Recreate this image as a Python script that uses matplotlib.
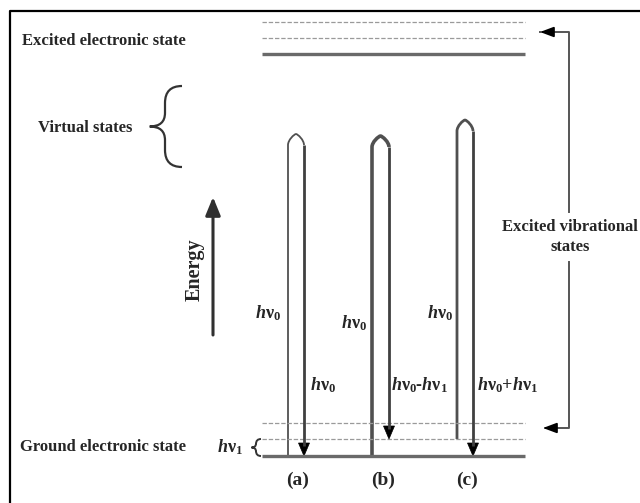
import matplotlib
matplotlib.use("Agg")
import matplotlib.pyplot as plt
from matplotlib.path import Path
from matplotlib.patches import PathPatch, Polygon

plt.rcParams['mathtext.fontset'] = 'custom'
plt.rcParams['mathtext.rm'] = 'Liberation Serif:bold'
plt.rcParams['mathtext.it'] = 'Liberation Serif:italic:bold'
plt.rcParams['mathtext.bf'] = 'Liberation Serif:bold'

# ---- diagram values (pixel-space layout of the energy diagram) ----
excited_levels = [22, 38, 54]          # dashed, dashed, solid
excited_styles = ['dashed', 'dashed', 'solid']
ground_levels = [423, 439, 456]        # dashed, dashed, solid
ground_styles = ['dashed', 'dashed', 'solid']
level_x = [262, 525]

panel_names = ['(a)', '(b)', '(c)']
x_up = [288, 372, 457]
x_down = [304, 389, 473]
y_top = [134, 136, 120]
y_up_start = [456, 456, 439]
y_down_end = [456, 439, 456]
up_widths = [1.3, 2.6, 2.0]
label_in = [r'$h\mathrm{\nu}_0$', r'$h\mathrm{\nu}_0$', r'$h\mathrm{\nu}_0$']
label_in_pos = [(268, 313), (354, 323), (440, 313)]
label_out = [r'$h\mathrm{\nu}_0$', r'$h\mathrm{\nu}_0$-$h\mathrm{\nu}_1$',
             r'$h\mathrm{\nu}_0$+$h\mathrm{\nu}_1$']
label_out_x = [310, 391, 477]
label_out_y = 385

TXT = '#262626'
LINE = '#505050'
FS_LAB = 12
FS_HV = 13
SERIF = dict(family='Liberation Serif', fontweight='bold')

fig = plt.figure(figsize=(6.4, 5.03), dpi=100)
ax = fig.add_axes([0, 0, 1, 1])
ax.set_xlim(0, 640)
ax.set_ylim(503, 0)
ax.axis('off')

# frame
ax.plot([9.5, 9.5, 640], [503, 10.5, 10.5], color='black', lw=1.6, solid_capstyle='butt')

# levels
for y, s in zip(excited_levels + ground_levels, excited_styles + ground_styles):
    if s == 'solid':
        ax.plot(level_x, [y, y], color='#6a6a6a', lw=2.4, solid_capstyle='butt')
    else:
        ax.plot(level_x, [y, y], color='#9a9a9a', lw=0.9, linestyle=(0, (3.5, 1.5)))

def down_head(x, ytip, w=5.5, h=13):
    ax.add_patch(Polygon([(x - w, ytip - h), (x + w, ytip - h), (x, ytip)],
                         closed=True, facecolor='black', edgecolor='black', lw=0.5))

# transitions
for i in range(3):
    xl, xr, yt = x_up[i], x_down[i], y_top[i]
    xm = (xl + xr) / 2
    verts = [(xl, y_up_start[i]), (xl, yt + 11),
             (xl, yt + 6), (xm - 2, yt + 0.3), (xm, yt),
             (xm + 2, yt + 0.3), (xr, yt + 6), (xr, yt + 11)]
    codes = [Path.MOVETO, Path.LINETO, Path.CURVE4, Path.CURVE4, Path.CURVE4,
             Path.CURVE4, Path.CURVE4, Path.CURVE4]
    ax.add_patch(PathPatch(Path(verts, codes), facecolor='none', edgecolor=LINE,
                           lw=up_widths[i], capstyle='butt', joinstyle='round'))
    ax.plot([xr, xr], [yt + 11, y_down_end[i] - 10], color='#404040', lw=2.0,
            solid_capstyle='butt')
    down_head(xr, y_down_end[i])
    ax.text(label_in_pos[i][0], label_in_pos[i][1], label_in[i], fontsize=FS_HV,
            color=TXT, ha='center', va='center', **SERIF)
    ax.text(label_out_x[i], label_out_y, label_out[i], fontsize=FS_HV,
            color=TXT, ha='left', va='center', **SERIF)
    ax.text(xr - 6, 480, panel_names[i], fontsize=14, color=TXT, ha='center',
            va='center', **SERIF)

# left labels
ax.text(22, 41, 'Excited electronic state', fontsize=FS_LAB, color=TXT,
        ha='left', va='center', **SERIF)
ax.text(38, 128, 'Virtual states', fontsize=FS_LAB, color=TXT,
        ha='left', va='center', **SERIF)
ax.text(20, 447, 'Ground electronic state', fontsize=FS_LAB, color=TXT,
        ha='left', va='center', **SERIF)
ax.text(230, 447, r'$h\mathrm{\nu}_1$', fontsize=FS_HV, color=TXT, ha='center',
        va='center', **SERIF)

# braces
def brace(xc, y0, y1, w, lw):
    ym = (y0 + y1) / 2
    verts = [(xc + w, y0), (xc, y0), (xc, y0 + w), (xc, ym - w * 0.8),
             (xc, ym), (xc - w * 0.9, ym), (xc - w * 0.9, ym),
             (xc, ym), (xc, ym + w * 0.8), (xc, y1 - w),
             (xc, y1), (xc + w, y1)]
    codes = [Path.MOVETO, Path.CURVE3, Path.CURVE3, Path.LINETO,
             Path.CURVE3, Path.CURVE3, Path.MOVETO,
             Path.CURVE3, Path.CURVE3, Path.LINETO,
             Path.CURVE3, Path.CURVE3]
    ax.add_patch(PathPatch(Path(verts, codes), facecolor='none', edgecolor='#333333', lw=lw))

brace(165, 86, 167, 17, 1.6)
brace(256, 439, 456, 5, 1.4)

# energy arrow
ax.annotate('', xy=(213, 197), xytext=(213, 335),
            arrowprops=dict(arrowstyle='-|>,head_width=0.45,head_length=1.1',
                            color='#303030', lw=2.2, shrinkA=0, shrinkB=0))
ax.text(195, 270, 'Energy', fontsize=14.5, color=TXT, rotation=90,
        ha='center', va='center', **SERIF)

# excited vibrational states bracket
ax.plot([540, 569, 569], [32, 32, 212], color='#555555', lw=1.4)
ax.plot([569, 569, 545], [262, 428, 428], color='#555555', lw=1.4)
ax.annotate('', xy=(540, 32), xytext=(552, 32),
            arrowprops=dict(arrowstyle='-|>,head_width=0.3,head_length=0.8',
                            color='black', lw=1.4, shrinkA=0, shrinkB=0))
ax.annotate('', xy=(543, 428), xytext=(555, 428),
            arrowprops=dict(arrowstyle='-|>,head_width=0.3,head_length=0.8',
                            color='black', lw=1.4, shrinkA=0, shrinkB=0))
ax.text(570, 237, 'Excited vibrational\nstates', fontsize=FS_LAB, color=TXT,
        ha='center', va='center', linespacing=1.4, **SERIF)

fig.savefig('out.png', dpi=100)
